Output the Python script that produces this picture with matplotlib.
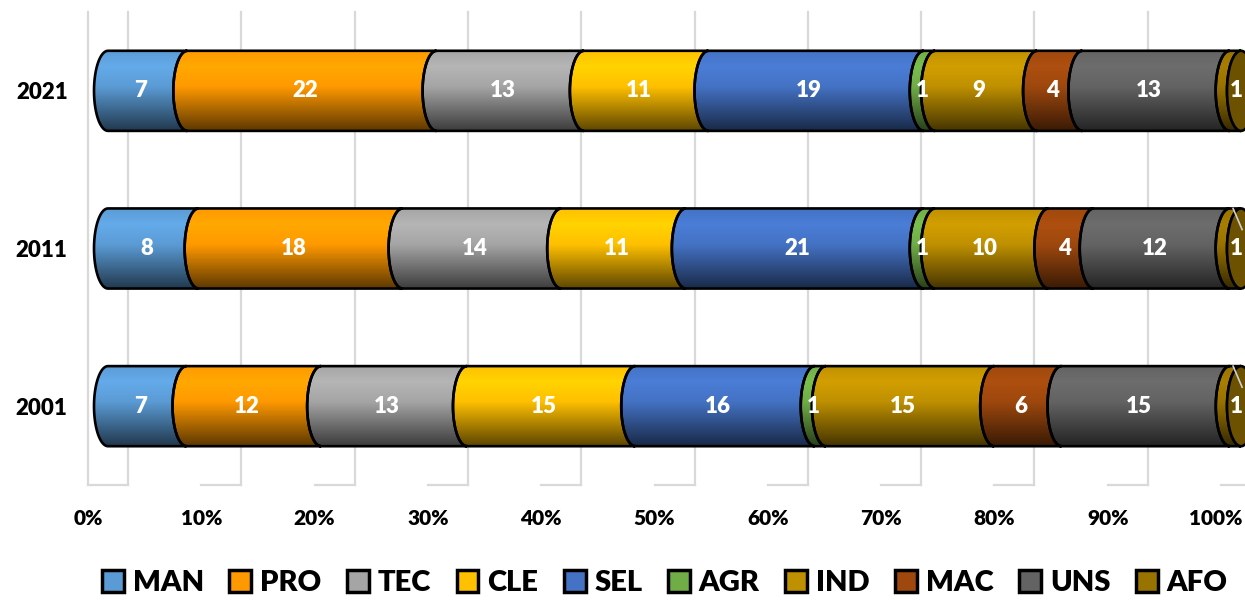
import numpy as np
import matplotlib.pyplot as plt
from matplotlib.patches import Patch, PathPatch, Ellipse
from matplotlib.path import Path
from matplotlib.transforms import ScaledTranslation
from matplotlib.colors import to_rgb

years = ['2001', '2011', '2021']
groups = ['MAN', 'PRO', 'TEC', 'CLE', 'SEL', 'AGR', 'IND', 'MAC', 'UNS', 'AFO']
colors = ['#5B9BD5', '#FF9900', '#A5A5A5', '#FFC000', '#4472C4',
          '#70AD47', '#BF9000', '#9E480E', '#636363', '#997300']

share_2001 = [7, 12, 13, 15, 16, 1, 15, 6, 15, 1]
share_2011 = [8, 18, 14, 11, 21, 1, 10, 4, 12, 1]
share_2021 = [7, 22, 13, 11, 19, 1, 9, 4, 13, 1]
shares = [share_2001, share_2011, share_2021]

FONT = ['Lato', 'DejaVu Sans']
W = 'heavy'
plt.rcParams['font.family'] = FONT

fig = plt.figure(figsize=(12.45, 6), dpi=100)
ax = fig.add_axes([108 / 1245, 115 / 600, 1133 / 1245, 473 / 600])
ax.set_xlim(0, 100)
ax.set_ylim(-0.5, 2.5)
ax.set_autoscale_on(False)
for s in ax.spines.values():
    s.set_visible(False)
ax.set_xticks([])
ax.set_yticks(range(len(years)))
ax.set_yticklabels(years, fontsize=16, fontweight=W)
ax.tick_params(axis='y', length=0, pad=29)

# 3d-ish floor/wall grid: back edge 20px left, front edge 20px right
back = ax.get_xaxis_transform() + ScaledTranslation(-0.2, 0, fig.dpi_scale_trans)
front = ax.get_xaxis_transform() + ScaledTranslation(0.2, 0, fig.dpi_scale_trans)
grid_kw = dict(color='#D9D9D9', lw=1.6, zorder=0, clip_on=False)
ax.plot([0, 0], [0, 1], transform=back, **grid_kw)
for k in range(0, 101, 10):
    ax.plot([k, k], [0, 1], transform=front, **grid_kw)
    # floor segment joining back and front
    p0 = back.transform((k, 0))
    p1 = front.transform((k, 0))
    ax.plot([p0[0], p1[0]], [p0[1], p1[1]], transform=None, **grid_kw)
    if k < 100:
        ax.text(k, -0.07, f'{k}%', transform=back, ha='center', va='center',
                fontsize=15, fontweight=W, clip_on=False)
    else:
        # keep the last label inside the canvas
        ax.text(k, -0.07, f'{k}%', ha='right', va='center', fontsize=15, fontweight=W,
                transform=ax.get_xaxis_transform()
                + ScaledTranslation(0.02, 0, fig.dpi_scale_trans))

# cylinder geometry
px_per_x = ax.transData.transform((1, 0))[0] - ax.transData.transform((0, 0))[0]
hw = 14 / px_per_x      # half width of the end ellipses
hh = 0.254              # half height of a bar

# vertical shading profile (top -> bottom)
t = np.linspace(0, 1, 200)
shade = np.interp(t, [0, 0.2, 0.45, 1.0], [1.0, 1.1, 1.0, 0.36])


def half_ellipse(xc, yc, a0, a1, n=40):
    th = np.radians(np.linspace(a0, a1, n))
    return np.column_stack([xc + hw * np.cos(th), yc + hh * np.sin(th)])


def segment_path(x0, x1, y):
    verts = [(x0, y + hh), (x1, y + hh)]
    verts += list(half_ellipse(x1, y, 90, 270))
    verts += [(x0, y - hh)]
    verts += list(half_ellipse(x0, y, 270, 90))
    verts.append(verts[0])
    codes = [Path.MOVETO] + [Path.LINETO] * (len(verts) - 2) + [Path.CLOSEPOLY]
    return Path(verts, codes)


cap_off = ax.transData + ScaledTranslation(0.02, 0, fig.dpi_scale_trans)

for yi, vals in enumerate(shares):
    vals = np.array(vals, dtype=float)
    pct = vals / vals.sum() * 100
    left = np.concatenate([[0], np.cumsum(pct)[:-1]])
    for j, (x0, w) in enumerate(zip(left, pct)):
        x1 = x0 + w
        rgb = np.array(to_rgb(colors[j]))
        img = np.clip(shade[:, None, None] * rgb[None, None, :], 0, 1)
        path = segment_path(x0, x1, yi)
        patch = PathPatch(path, facecolor='none', edgecolor='none', zorder=2,
                          clip_on=False)
        ax.add_patch(patch)
        im = ax.imshow(img, extent=[x0 - hw, x1, yi - hh, yi + hh], origin='upper',
                       aspect='auto', zorder=2, interpolation='bilinear')
        im.set_clip_box(fig.bbox)
        im.set_clip_path(patch)
        ax.add_patch(PathPatch(path, facecolor='none', edgecolor='black', lw=1.9,
                               zorder=3, clip_on=False))
        label_kw = dict(color='white', va='center', fontsize=16, fontweight=W,
                        zorder=6, clip_on=False)
        if j == len(vals) - 1:
            cap = Ellipse((x1, yi), 2 * hw, 2 * hh, facecolor=rgb * 0.7,
                          edgecolor='black', lw=1.9, zorder=4, clip_on=False)
            ax.add_patch(cap)
            ax.text(x1, yi, f'{int(vals[j])}', ha='right', transform=cap_off,
                    **label_kw)
        else:
            ax.text(x0 + w / 2 - 0.5 * hw, yi, f'{int(vals[j])}', ha='center',
                    **label_kw)

# leader lines for the small AFO labels
for yi in (0, 1):
    ax.plot([99.3, 100.1], [yi + hh, yi + 0.12], color='#D0D0D0', lw=1.2,
            zorder=5, clip_on=False)

handles = [Patch(facecolor=c, edgecolor='black', lw=2.5) for c in colors]
fig.legend(handles, groups, loc='center', bbox_to_anchor=(0.534, 0.028), ncol=10,
           frameon=False, prop={'size': 21, 'weight': W},
           handlelength=0.75, handleheight=0.75, handletextpad=0.3,
           columnspacing=0.88, borderaxespad=0)

fig.savefig('out.png', dpi=100)
